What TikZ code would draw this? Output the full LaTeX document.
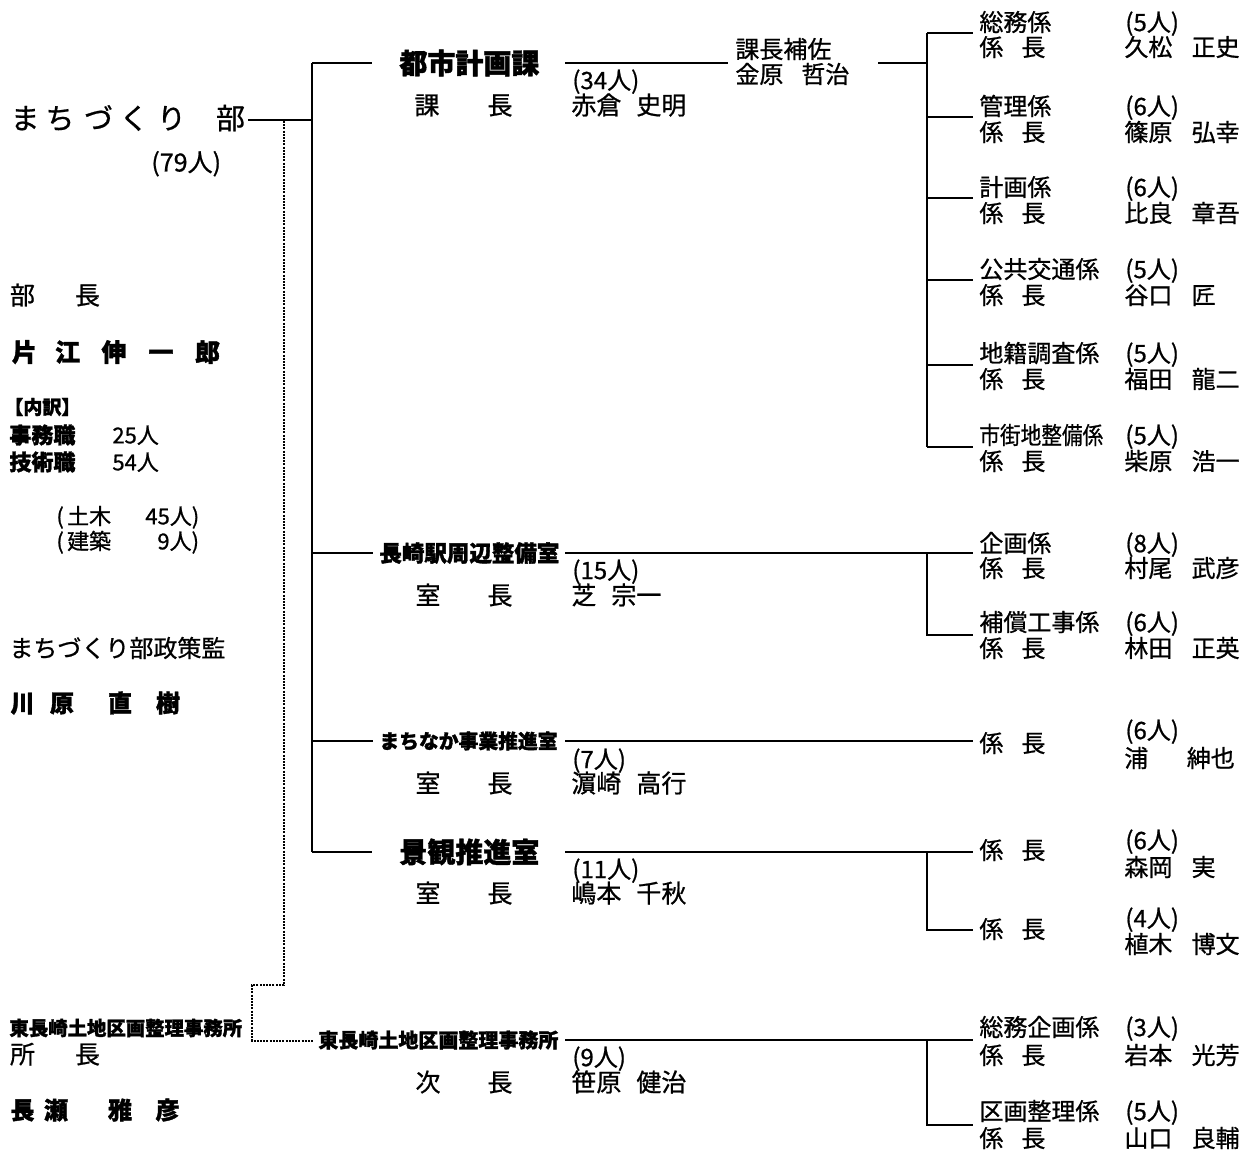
\documentclass[tikz,border=0pt]{standalone}
\usepackage{fontspec}
\setmainfont{Noto Sans CJK JP}[UprightFeatures={FakeBold=0.8}, BoldFeatures={FakeBold=1.5}]
\newcommand\kakari{係\hspace{0.75em}長}
\newcommand\ngap{\hspace{0.8em}}
\tikzset{
  txt/.style={anchor=west, inner sep=0pt, font=\fontsize{#1pt}{#1pt}\selectfont, text height=#1pt*0.76, text depth=0pt},
  txtb/.style={anchor=west, inner sep=0pt, font=\fontsize{#1pt}{#1pt}\selectfont\bfseries, text height=#1pt*0.76, text depth=0pt},
  chr/.style={anchor=center, inner sep=0pt, font=\fontsize{#1pt}{#1pt}\selectfont, text height=#1pt*0.76, text depth=0pt},
  chrb/.style={anchor=center, inner sep=0pt, font=\fontsize{#1pt}{#1pt}\selectfont\bfseries, text height=#1pt*0.76, text depth=0pt},
  ln/.style={line width=1pt},
  dl/.style={line width=0.9pt, dash pattern=on 1pt off 0.6pt},
}
\begin{document}
\begin{tikzpicture}[x=0.5pt,y=-0.5pt]
\useasboundingbox[fill=white] (0,0) rectangle (1260,1155);

% ---------- left column ----------
\node[chr=14.5] (m1) at (25,118) {ま};
\node[chr=14.5] (m2) at (60,118) {ち};
\node[chr=14.5] (m3) at (98.5,118) {づ};
\node[chr=14.5] (m4) at (134,118) {く};
\node[chr=14.5] (m5) at (171.5,118) {り};
\node[chr=14.5] (m6) at (230.5,118) {部};
\node[txt=12.5] (tot) at (151,162) {(79人)};

\node[chr=12.5] (bu1) at (22.5,295) {部};
\node[chr=12.5] (bu2) at (87.5,295) {長};
\node[chrb=12.5] (k1) at (24.5,352) {片};
\node[chrb=12.5] (k2) at (67.5,352) {江};
\node[chrb=12.5] (k3) at (114,352) {伸};
\node[chrb=12.5] (k4) at (161,352) {一};
\node[chrb=12.5] (k5) at (207.5,352) {郎};

\node[txtb=9.5] (uchi) at (4,407) {【内訳】};
\node[txtb=11] (jim) at (9,435) {事務職};
\node[txt=11] (jimn) at (112,435) {25人};
\node[txtb=11] (gij) at (9,462) {技術職};
\node[txt=11] (gijn) at (112,462) {54人};
\node[txt=11] (dob) at (56,516) {(\hspace{0.15em}土木};
\node[txt=11] (dobn) at (145,516) {45人)};
\node[txt=11] (ken) at (56,541) {(\hspace{0.15em}建築};
\node[txt=11] (kenn) at (157,541) {9人)};

\node[txt=12] (seis) at (9,648) {まちづくり部政策監};
\node[chrb=12] (h1) at (22.5,703) {川};
\node[chrb=12] (h2) at (62,703) {原};
\node[chrb=12] (h3) at (120,703) {直};
\node[chrb=12] (h4) at (168,703) {樹};

\node[txtb=9.7] (hg) at (9,1028) {東長崎土地区画整理事務所};
\node[chr=12.5] (sh1) at (22.5,1054) {所};
\node[chr=12.5] (sh2) at (87.5,1054) {長};
\node[chrb=12] (n1) at (22.5,1110) {長};
\node[chrb=12] (n2) at (56,1110) {瀬};
\node[chrb=12] (n3) at (120,1110) {雅};
\node[chrb=12] (n4) at (167.5,1110) {彦};

% ---------- trunk ----------
\coordinate (bu) at (248,120);
\coordinate (tj) at (312,120);
\coordinate (t1) at (312,63);
\coordinate (t2) at (312,553);
\coordinate (t3) at (312,741);
\coordinate (t4) at (312,852);
\draw[ln] (bu) -- (tj);
\draw[ln] (t1) -- (t4);
\coordinate (s1) at (372,63);
\coordinate (s2) at (373,553);
\coordinate (s3) at (373,741);
\coordinate (s4) at (372,852);
\draw[ln] (t1) -- (s1);
\draw[ln] (t2) -- (s2);
\draw[ln] (t3) -- (s3);
\draw[ln] (t4) -- (s4);

% dotted link to the land readjustment office
\coordinate (d0) at (284,121);
\coordinate (d1) at (284,985);
\coordinate (d2) at (252,985);
\coordinate (d3) at (252,1041);
\coordinate (d4) at (314,1041);
\draw[dl] (d0) -- (d1) -- (d2) -- (d3) -- (d4);

% ---------- centre column ----------
\node[txtb=14] (toshi) at (399,63) {都市計画課};
\node[txt=12] (toshin) at (572,80) {(34人)};
\node[chr=12.5] (ka1) at (427,105) {課};
\node[chr=12.5] (ka2) at (500,105) {長};
\node[txt=12.5] (kacho) at (571,105) {赤倉\hspace{0.6em}史明};
\node[txt=12] (hosa) at (735,49) {課長補佐};
\node[txt=12] (hosan) at (735,74) {金原\hspace{0.75em}哲治};
\coordinate (a1) at (565,63);
\coordinate (a2) at (728,63);
\coordinate (a3) at (878,63);
\coordinate (a4) at (927,63);
\draw[ln] (a1) -- (a2);
\draw[ln] (a3) -- (a4);

\node[txtb=11.25] (eki) at (379,553) {長崎駅周辺整備室};
\node[txt=12] (ekin) at (572,570) {(15人)};
\node[chr=12.5] (e1) at (428,595) {室};
\node[chr=12.5] (e2) at (500,595) {長};
\node[txt=12.5] (ekic) at (571,595) {芝\hspace{0.6em}宗一};

\node[txtb=9.9] (machi) at (379,741) {まちなか事業推進室};
\node[txt=12] (machin) at (572,759) {(7人)};
\node[chr=12.5] (mc1) at (428,783) {室};
\node[chr=12.5] (mc2) at (500,783) {長};
\node[txt=12.5] (machic) at (571,783) {濵崎\hspace{0.6em}高行};

\node[txtb=14] (kei) at (399,852) {景観推進室};
\node[txt=12] (kein) at (572,869) {(11人)};
\node[chr=12.5] (kc1) at (428,893) {室};
\node[chr=12.5] (kc2) at (500,893) {長};
\node[txt=12.5] (keic) at (571,893) {嶋本\hspace{0.6em}千秋};

\node[txtb=10] (hgc) at (318,1040) {東長崎土地区画整理事務所};
\node[txt=12] (hgcn) at (572,1057) {(9人)};
\node[chr=12.5] (hc1) at (428,1082) {次};
\node[chr=12.5] (hc2) at (500,1082) {長};
\node[txt=12.5] (hgcc) at (571,1082) {笹原\hspace{0.6em}健治};

\coordinate (b2) at (565,553);
\coordinate (b3) at (565,741);
\coordinate (b4) at (565,852);
\coordinate (b5) at (565,1040);
\coordinate (r2) at (973,553);
\coordinate (r3) at (973,741);
\coordinate (r4) at (973,852);
\coordinate (r5) at (973,1040);
\draw[ln] (b2) -- (r2);
\draw[ln] (b3) -- (r3);
\draw[ln] (b4) -- (r4);
\draw[ln] (b5) -- (r5);

% ---------- right column: city planning ----------
\foreach \yy [count=\i] in {33,117,198,280,365,447}{
  \coordinate (v\i) at (927,\yy);
  \coordinate (w\i) at (973,\yy);
  \draw[ln] (v\i) -- (w\i);
}
\draw[ln] (v1) -- (v6);

\node[txt=12] (g1) at (979,22) {総務係};
\node[txt=12] (g1n) at (1125,22) {(5人)};
\node[txt=12] (g1k) at (979,47) {\kakari};
\node[txt=12] (g1m) at (1124,47) {久松\ngap 正史};

\node[txt=12] (g2) at (979,106) {管理係};
\node[txt=12] (g2n) at (1125,106) {(6人)};
\node[txt=12] (g2k) at (979,132) {\kakari};
\node[txt=12] (g2m) at (1124,132) {篠原\ngap 弘幸};

\node[txt=12] (g3) at (979,187) {計画係};
\node[txt=12] (g3n) at (1125,187) {(6人)};
\node[txt=12] (g3k) at (979,213) {\kakari};
\node[txt=12] (g3m) at (1124,213) {比良\ngap 章吾};

\node[txt=12] (g4) at (979,269) {公共交通係};
\node[txt=12] (g4n) at (1125,269) {(5人)};
\node[txt=12] (g4k) at (979,295) {\kakari};
\node[txt=12] (g4m) at (1124,295) {谷口\ngap 匠};

\node[txt=12] (g5) at (979,353) {地籍調査係};
\node[txt=12] (g5n) at (1125,353) {(5人)};
\node[txt=12] (g5k) at (979,379) {\kakari};
\node[txt=12] (g5m) at (1124,379) {福田\ngap 龍二};

\node[txt=12] (g6) at (979,435) {\scalebox{0.86}[1]{市街地整備係}};
\node[txt=12] (g6n) at (1125,435) {(5人)};
\node[txt=12] (g6k) at (979,461) {\kakari};
\node[txt=12] (g6m) at (1124,461) {柴原\ngap 浩一};

% ---------- right column: station area ----------
\coordinate (x1) at (927,553);
\coordinate (x2) at (927,635);
\coordinate (x2e) at (973,635);
\draw[ln] (x1) -- (x2) -- (x2e);
\node[txt=12] (p1) at (979,543) {企画係};
\node[txt=12] (p1n) at (1125,543) {(8人)};
\node[txt=12] (p1k) at (979,568) {\kakari};
\node[txt=12] (p1m) at (1124,568) {村尾\ngap 武彦};
\node[txt=12] (p2) at (979,622) {補償工事係};
\node[txt=12] (p2n) at (1125,622) {(6人)};
\node[txt=12] (p2k) at (979,648) {\kakari};
\node[txt=12] (p2m) at (1124,648) {林田\ngap 正英};

% ---------- right column: machinaka ----------
\node[txt=12] (q1k) at (979,743) {\kakari};
\node[txt=12] (q1n) at (1125,730) {(6人)};
\node[txt=12] (q1m) at (1124,758) {浦\hspace{1.6em}紳也};

% ---------- right column: landscape ----------
\coordinate (y1) at (927,852);
\coordinate (y2) at (927,930);
\coordinate (y2e) at (973,930);
\draw[ln] (y1) -- (y2) -- (y2e);
\node[txt=12] (l1k) at (979,850) {\kakari};
\node[txt=12] (l1n) at (1125,840) {(6人)};
\node[txt=12] (l1m) at (1124,867) {森岡\ngap 実};
\node[txt=12] (l2k) at (979,929) {\kakari};
\node[txt=12] (l2n) at (1125,918) {(4人)};
\node[txt=12] (l2m) at (1124,944) {植木\ngap 博文};

% ---------- right column: land readjustment ----------
\coordinate (z1) at (927,1040);
\coordinate (z2) at (927,1125);
\coordinate (z2e) at (973,1125);
\draw[ln] (z1) -- (z2) -- (z2e);
\node[txt=12] (o1) at (979,1027) {総務企画係};
\node[txt=12] (o1n) at (1125,1027) {(3人)};
\node[txt=12] (o1k) at (979,1055) {\kakari};
\node[txt=12] (o1m) at (1124,1055) {岩本\ngap 光芳};
\node[txt=12] (o2) at (979,1111) {区画整理係};
\node[txt=12] (o2n) at (1125,1111) {(5人)};
\node[txt=12] (o2k) at (979,1138) {\kakari};
\node[txt=12] (o2m) at (1124,1138) {山口\ngap 良輔};
\end{tikzpicture}
\end{document}
